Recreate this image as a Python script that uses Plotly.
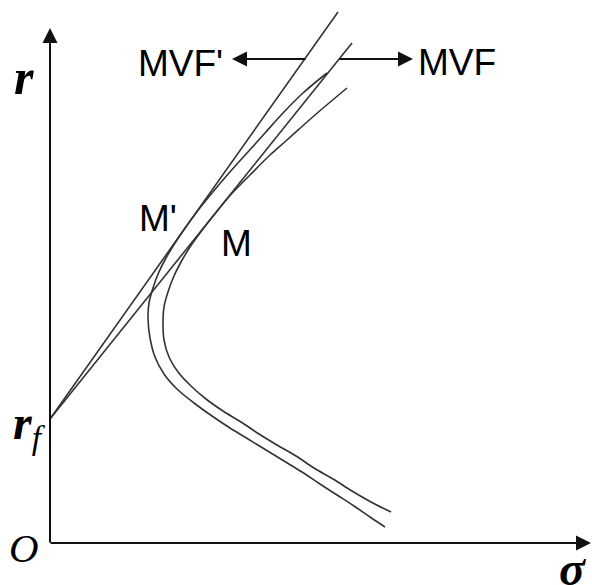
import plotly.graph_objects as go

# ---------------- data ----------------
RF = 1.24  # risk-free rate on the r axis

# straight tangent lines starting at r_f (the two "MVF" lines with riskless asset)
mvf_prime_line_sigma = [0.0, 2.88]
mvf_prime_line_r = [RF, 5.31]
mvf_line_sigma = [0.0, 3.02]
mvf_line_r = [RF, 5.00]

# outer risky frontier (tangent point M'), from lower end through vertex to upper end
frontier_prime_sigma = [3.35, 3.20, 3.04, 2.87, 2.70, 2.52, 2.34, 2.16, 1.98, 1.80, 1.62, 1.44, 1.27, 1.14,
                        1.05, 1.00, 0.98,
                        0.99, 1.03, 1.085, 1.16, 1.25, 1.344, 1.46, 1.62, 1.79, 1.97, 2.15, 2.33, 2.53, 2.77]
frontier_prime_r = [0.16, 0.26, 0.37, 0.48, 0.59, 0.71, 0.82, 0.93, 1.04, 1.15, 1.27, 1.40, 1.54, 1.69,
                    1.86, 2.05, 2.25,
                    2.40, 2.55, 2.70, 2.85, 3.00, 3.14, 3.30, 3.50, 3.70, 3.90, 4.10, 4.30, 4.50, 4.70]

# inner risky frontier (tangent point M), from lower end through vertex to upper end
frontier_sigma = [3.41, 3.21, 3.02, 2.83, 2.64, 2.46, 2.27, 2.09, 1.91, 1.73, 1.56, 1.41, 1.28, 1.19,
                  1.14, 1.13,
                  1.14, 1.18, 1.235, 1.31, 1.40, 1.515, 1.64, 1.805, 2.00, 2.20, 2.37, 2.65, 2.97]
frontier_r = [0.31, 0.41, 0.52, 0.64, 0.75, 0.87, 0.98, 1.09, 1.21, 1.32, 1.44, 1.57, 1.71, 1.86,
              2.03, 2.21,
              2.36, 2.51, 2.66, 2.81, 2.96, 3.12, 3.28, 3.48, 3.68, 3.88, 4.03, 4.28, 4.55]

# label arrows (start on the line, tip towards the text)
arrow_mvf_prime = {"start": (2.57, 4.84), "tip": (1.82, 4.84)}
arrow_mvf = {"start": (2.88, 4.84), "tip": (3.63, 4.84)}

# axes extents
axis_top_r = 5.15
axis_right_sigma = 5.41

LINE_COLOR = "#333333"
SANS = "Liberation Sans, Arial, sans-serif"
SERIF = "Liberation Serif, Times New Roman, serif"

fig = go.Figure()

for xs, ys in [(mvf_prime_line_sigma, mvf_prime_line_r),
               (mvf_line_sigma, mvf_line_r)]:
    fig.add_trace(go.Scatter(x=xs, y=ys, mode="lines",
                             line=dict(color=LINE_COLOR, width=1.6),
                             hoverinfo="skip", showlegend=False))

for xs, ys in [(frontier_prime_sigma, frontier_prime_r),
               (frontier_sigma, frontier_r)]:
    fig.add_trace(go.Scatter(x=xs, y=ys, mode="lines",
                             line=dict(color=LINE_COLOR, width=1.6, shape="spline", smoothing=1.0),
                             hoverinfo="skip", showlegend=False))

annotations = []

def arrow(tip, start):
    annotations.append(dict(x=tip[0], y=tip[1], ax=start[0], ay=start[1],
                            xref="x", yref="y", axref="x", ayref="y",
                            showarrow=True, arrowhead=2, arrowsize=1.5, arrowwidth=2,
                            arrowcolor="#111111", text=""))

# axes drawn as arrows
arrow((0, axis_top_r), (0, -0.01))
arrow((axis_right_sigma, 0), (-0.01, 0))
# label arrows
arrow(arrow_mvf_prime["tip"], arrow_mvf_prime["start"])
arrow(arrow_mvf["tip"], arrow_mvf["start"])

def label(text, x, y, family, size, xanchor="center"):
    annotations.append(dict(x=x, y=y, xref="x", yref="y", text=text, showarrow=False,
                            xanchor=xanchor, yanchor="middle",
                            font=dict(family=family, size=size, color="#000000")))

label("MVF'", 1.30, 4.80, SANS, 37)
label("MVF", 4.065, 4.81, SANS, 37)
label("M'", 1.075, 3.25, SANS, 37)
label("M", 1.86, 2.995, SANS, 37)
label("<b><i>r</i></b>", -0.26, 4.66, SERIF, 50)
label("<b><i>r</i></b><sub><i>f</i></sub>", -0.21, 1.17, SERIF, 48)
label("<i>O</i>", -0.265, -0.05, SERIF, 41)
label("<b><i>σ</i></b>", 5.22, -0.25, SERIF, 48)

fig.update_layout(
    width=592, height=585,
    margin=dict(l=0, r=0, t=0, b=0),
    paper_bgcolor="white", plot_bgcolor="white",
    xaxis=dict(range=[-0.50, 5.42], visible=False, fixedrange=True),
    yaxis=dict(range=[-0.42, 5.43], visible=False, fixedrange=True),
    annotations=annotations,
    showlegend=False,
)

fig.write_html("out.html", config={"displayModeBar": False})
